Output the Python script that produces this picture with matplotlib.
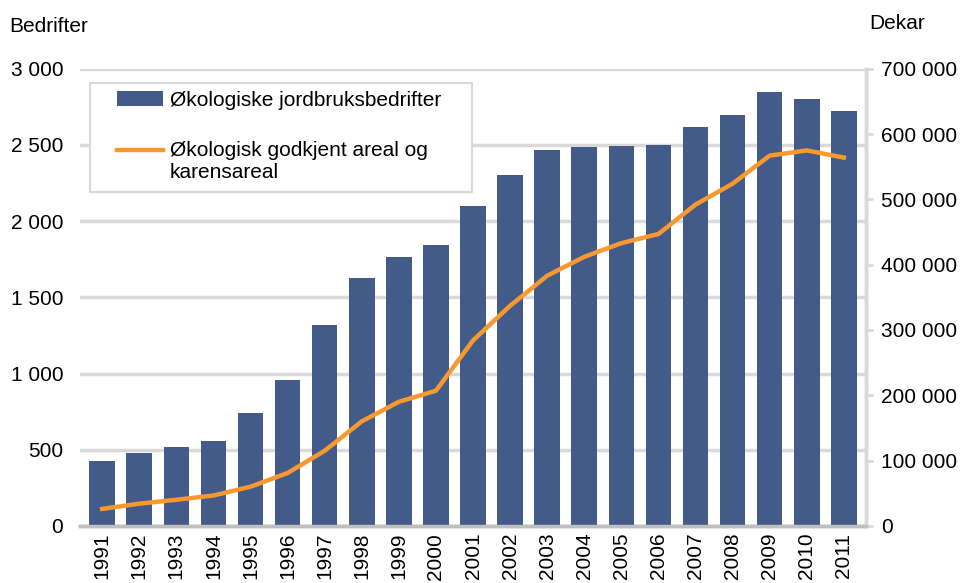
import matplotlib
matplotlib.use('Agg')
import matplotlib.pyplot as plt
import numpy as np
from matplotlib.legend_handler import HandlerLine2D
from matplotlib.patches import Rectangle
from matplotlib.ticker import FuncFormatter, MultipleLocator

plt.rcParams['font.family'] = ['Liberation Sans', 'DejaVu Sans']

years = [str(y) for y in range(1991, 2012)]
bedrifter = [425, 480, 520, 560, 740, 955, 1320, 1630, 1765, 1845, 2100,
             2300, 2465, 2485, 2495, 2500, 2615, 2700, 2850, 2805, 2725]
areal = [26000, 34000, 40000, 46500, 60000, 81000, 115000, 160000, 190000, 207000, 284000,
         337000, 383000, 412000, 433000, 447000, 492000, 524000, 567000, 575000, 564000]

bar_color = '#425B89'
line_color = '#F7992F'
grid_color = '#D9D9D9'
fs = 15


def fmt_space(v, pos):
    return f"{int(v):,}".replace(',', ' ')


class TopLineHandler(HandlerLine2D):
    # put the legend line level with the first line of a two-line label
    def create_artists(self, legend, orig_handle, xdescent, ydescent, width, height, fontsize, trans):
        arts = super().create_artists(legend, orig_handle, xdescent, ydescent,
                                      width, height, fontsize, trans)
        for a in arts:
            a.set_ydata(np.asarray(a.get_ydata()) + 0.58 * fontsize)
        return arts


fig = plt.figure(figsize=(9.61, 5.83), dpi=100)
ax = fig.add_axes([0.0832, 0.098, 0.818, 0.784])
ax2 = ax.twinx()

x = range(len(years))
ax.bar(x, bedrifter, width=0.69, color=bar_color, zorder=3, label='Økologiske jordbruksbedrifter')
line, = ax2.plot(x, areal, color=line_color, lw=3.2, zorder=4,
                 label='Økologisk godkjent areal og\nkarensareal')

ax.set_ylim(0, 3000)
ax.set_xlim(-0.6, len(years) - 0.4)
ax.yaxis.set_major_locator(MultipleLocator(500))
ax.yaxis.set_major_formatter(FuncFormatter(fmt_space))
ax.grid(axis='y', color=grid_color, lw=2.5, zorder=0)
ax.set_axisbelow(True)
ax.set_xticks(list(x))
ax.set_xticklabels(years, rotation=90, fontsize=fs)
ax.tick_params(axis='y', length=0, labelsize=fs, pad=12)
ax.tick_params(axis='x', length=0, pad=5)

ax2.set_ylim(0, 700000)
ax2.yaxis.set_major_locator(MultipleLocator(100000))
ax2.yaxis.set_major_formatter(FuncFormatter(fmt_space))
ax2.tick_params(axis='y', length=5, width=2, color=grid_color, labelsize=fs, pad=6)

for a in (ax, ax2):
    a.spines['left'].set_visible(False)
    a.spines['top'].set_visible(False)
    a.spines['right'].set_color(grid_color)
    a.spines['right'].set_linewidth(2.5)
    a.spines['bottom'].set_color('#BFBFBF')
    a.spines['bottom'].set_linewidth(2.5)

# legend box drawn separately so the padding can differ in x and y
ax2.add_patch(Rectangle((0.0127, 0.731), 0.486, 0.238, transform=ax2.transAxes,
                        facecolor='white', edgecolor=grid_color, lw=1.5, zorder=5))
h1, l1 = ax.get_legend_handles_labels()
h2, l2 = ax2.get_legend_handles_labels()
leg = ax2.legend(h1 + h2, l1 + l2, loc='upper left', bbox_to_anchor=(0.047, 0.952),
                 fontsize=fs, frameon=False, handlelength=2.2, handletextpad=0.35,
                 labelspacing=1.5, borderpad=0, borderaxespad=0,
                 handler_map={line: TopLineHandler()})
leg.set_zorder(6)

fig.text(0.01, 0.955, 'Bedrifter', fontsize=fs, ha='left', va='center')
fig.text(0.963, 0.96, 'Dekar', fontsize=fs, ha='right', va='center')

fig.savefig('out.png', dpi=100)
